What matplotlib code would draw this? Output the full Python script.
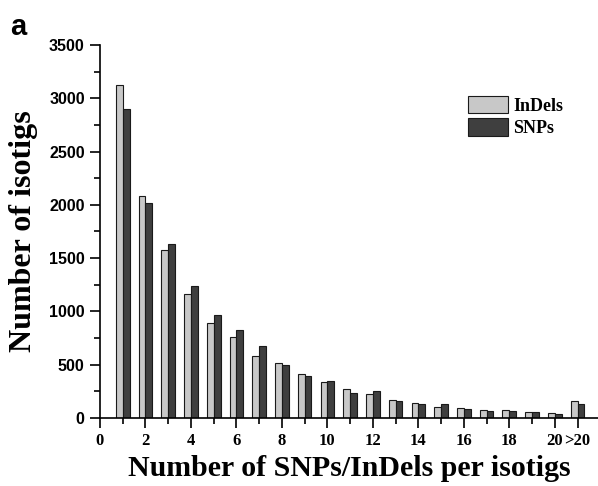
import numpy as np
import matplotlib.pyplot as plt
from matplotlib.ticker import MultipleLocator, FixedLocator

# isotig counts per number of variants (1..20 and >20)
bins = np.arange(1, 22)
indels = [3120, 2085, 1575, 1165, 890, 760, 580, 520, 410, 338,
          272, 222, 172, 138, 103, 94, 78, 75, 56, 50, 160]
snps = [2895, 2015, 1630, 1240, 965, 830, 680, 497, 397, 344,
        235, 250, 160, 131, 128, 84, 66, 63, 56, 40, 131]
xtick_pos = list(range(0, 21, 2)) + [21]
xtick_lab = [str(v) for v in range(0, 21, 2)] + ['>20']

fig = plt.figure(figsize=(5.98, 4.86), dpi=100)
ax = fig.add_axes([100/598, 68/486, 1 - 100/598, (418 - 45)/486])

w = 0.3
ax.bar(bins - w/2, indels, width=w, color='#c8c8c8', edgecolor='#1a1a1a',
       linewidth=0.8, label='InDels')
ax.bar(bins + w/2, snps, width=w, color='#3f3f3f', edgecolor='#1a1a1a',
       linewidth=0.8, label='SNPs')

ax.set_xlim(0, 21.9)
ax.set_ylim(0, 3500)
for s in ['top', 'right']:
    ax.spines[s].set_visible(False)
for s in ['left', 'bottom']:
    ax.spines[s].set_linewidth(1.2)

ax.yaxis.set_major_locator(MultipleLocator(500))
ax.yaxis.set_minor_locator(MultipleLocator(250))
ax.xaxis.set_major_locator(FixedLocator(xtick_pos))
ax.xaxis.set_minor_locator(FixedLocator(range(1, 20, 2)))
ax.set_xticklabels(xtick_lab, fontfamily='Liberation Serif',
                   fontweight='bold', fontsize=12)
for t in ax.get_yticklabels():
    t.set_fontfamily('Liberation Sans')
    t.set_fontweight('bold')
    t.set_fontsize(11.5)
ax.tick_params(which='major', length=7, width=1.2, direction='out', pad=4)
ax.tick_params(which='minor', length=4, width=1.2, direction='out')

ax.set_xlabel('Number of SNPs/InDels per isotigs', fontfamily='Liberation Serif',
              fontweight='bold', fontsize=21.5, labelpad=4)
ax.set_ylabel('Number of isotigs', fontfamily='Liberation Serif',
              fontweight='bold', fontsize=23, labelpad=8)

ax.legend(loc='upper left', bbox_to_anchor=(459/598, 1 - 87/486),
          bbox_transform=fig.transFigure, frameon=False, borderpad=0,
          handlelength=2.2, handleheight=1.1, labelspacing=0.2,
          handletextpad=0.3,
          prop={'family': 'Liberation Serif', 'weight': 'bold', 'size': 13})

fig.text(10/598, 1 - 35/486, 'a', fontfamily='Liberation Sans',
         fontweight='bold', fontsize=21)

fig.savefig('out.png', dpi=100)
